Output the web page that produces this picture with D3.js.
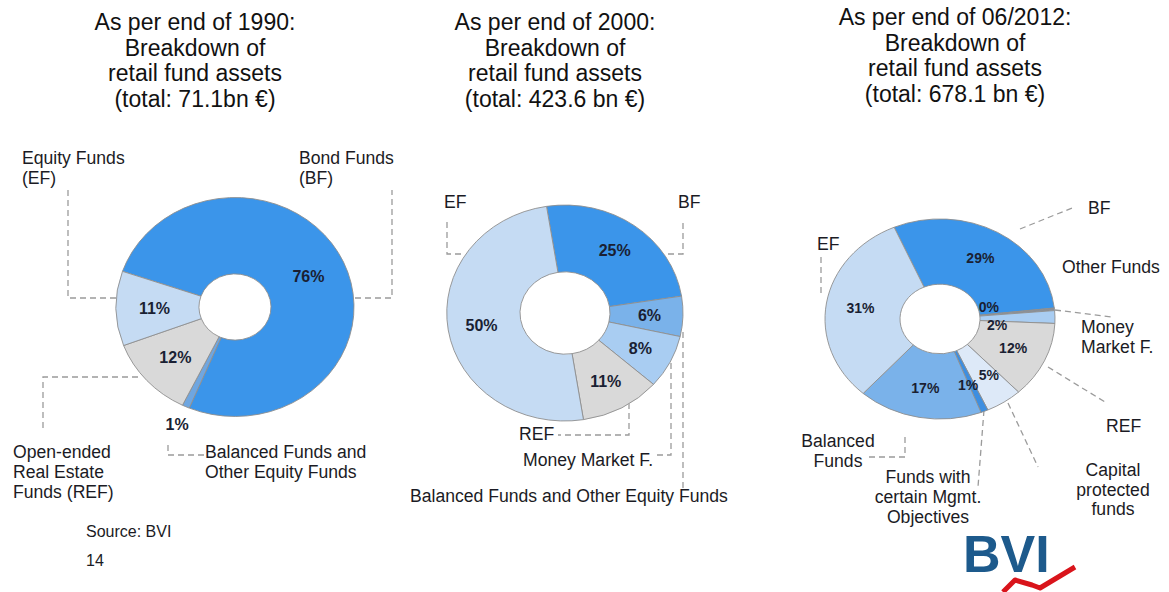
<!DOCTYPE html>
<html lang="en">
<head>
<meta charset="utf-8">
<style>
  body { margin: 0; background: #fff; }
  svg text { font-family: "Liberation Sans", Arial, sans-serif; fill: #1b1b24; }
  .title { font-size: 23px; text-anchor: middle; fill: #111; }
  .cat { font-size: 17.6px; }
  .pct { font-weight: bold; text-anchor: middle; fill: #1a1f33; }
  .leader { fill: none; stroke: #9b9b9b; stroke-width: 1.3px; stroke-dasharray: 6,4; }
  .slice { stroke: #8f8f8f; stroke-width: 0.9px; vector-effect: non-scaling-stroke; }
</style>
</head>
<body>
<svg width="1169" height="592"></svg>
<script src="https://d3js.org/d3.v7.min.js"></script>
<script>
// ---- data (shares in % of retail fund assets) ----
var titles1990 = ["As per end of 1990:", "Breakdown of", "retail fund assets", "(total: 71.1bn \u20ac)"];
var titles2000 = ["As per end of 2000:", "Breakdown of", "retail fund assets", "(total: 423.6 bn \u20ac)"];
var titles2012 = ["As per end of 06/2012:", "Breakdown of", "retail fund assets", "(total: 678.1 bn \u20ac)"];

var keys1990 = ["BF", "BAL", "REF", "EF"];
var shares1990 = [76, 1, 12, 11];

var keys2000 = ["BF", "BAL", "MMF", "REF", "EF"];
var shares2000 = [25, 6, 8, 11, 50];

var keys2012 = ["BF", "OTH", "MMF", "REF", "CAP", "MGMT", "BAL", "EF"];
var shares2012 = [29, 0.4, 2, 12, 5, 1, 17, 31];

var svg = d3.select("svg");

var colors = {
    BF: "#3b95ea", EF: "#c5dbf3", REF: "#d9d9d9", BAL: "#7ab2ea",
    MMF: "#a9cdf2", OTH: "#8a9099", CAP: "#dde9f8", MGMT: "#3d8ee0"
};

var charts = [
    {
        keys: keys1990, values: shares1990, titles: titles1990,
        cx: 235, cy: 307, r: 119, r0: 36, sy: 0.92, start: -71, titleX: 195, titleY: 30, pctSize: 16,
        colors: {BAL: "#6fa6e0"},
        pctR: {BAL: 140}, pctShift: {},
        labels: [
            {x: 22, y: 164, lines: ["Equity Funds", "(EF)"]},
            {x: 299, y: 164, lines: ["Bond Funds", "(BF)"]},
            {x: 13, y: 458, lines: ["Open-ended", "Real Estate", "Funds (REF)"]},
            {x: 205, y: 458, lines: ["Balanced Funds and", "Other Equity Funds"]}
        ],
        leaders: [
            [[68, 190], [68, 298], [117, 298]],
            [[355, 298], [392, 298], [392, 190]],
            [[138, 377], [43, 377], [43, 432]],
            [[168, 445], [168, 455], [204, 455]]
        ]
    },
    {
        keys: keys2000, values: shares2000, titles: titles2000,
        cx: 565, cy: 313, r: 118, r0: 45, sy: 0.915, start: -9, titleX: 555, titleY: 30, pctSize: 16,
        colors: {},
        pctR: {}, pctShift: {},
        labels: [
            {x: 444, y: 208, lines: ["EF"]},
            {x: 678, y: 208, lines: ["BF"]},
            {x: 519, y: 440, lines: ["REF"]},
            {x: 523, y: 466, lines: ["Money Market F."]},
            {x: 410, y: 502, lines: ["Balanced Funds and Other Equity Funds"]}
        ],
        leaders: [
            [[447, 222], [447, 254], [463, 254]],
            [[668, 254], [683, 254], [683, 220]],
            [[629, 403], [629, 435], [558, 435]],
            [[671, 363], [671, 455], [653, 455]],
            [[683, 332], [683, 488]]
        ]
    },
    {
        keys: keys2012, values: shares2012, titles: titles2012,
        cx: 940, cy: 319, r: 115, r0: 40, sy: 0.87, start: -23.5, titleX: 955, titleY: 25, pctSize: 14,
        colors: {},
        pctR: {OTH: 52, MMF: 54},
        pctShift: {OTH: [-3, -8], MMF: [3, 7], MGMT: [-3, 1], CAP: [4, -2]},
        labels: [
            {x: 1088, y: 214, lines: ["BF"]},
            {x: 1062, y: 273, lines: ["Other Funds"]},
            {x: 1081, y: 333, lines: ["Money", "Market F."]},
            {x: 1106, y: 432, lines: ["REF"]},
            {x: 1113, y: 476, lines: ["Capital", "protected", "funds"], anchor: "middle", lh: 19.5},
            {x: 928, y: 483, lines: ["Funds with", "certain Mgmt.", "Objectives"], anchor: "middle", lh: 20},
            {x: 838, y: 447, lines: ["Balanced", "Funds"], anchor: "middle"},
            {x: 817, y: 250, lines: ["EF"]}
        ],
        leaders: [
            [[1020, 229], [1072, 208]],
            [[1055, 310], [1112, 317]],
            [[1048, 367], [1105, 402]],
            [[1008, 403], [1038, 467]],
            [[984, 410], [978, 487]],
            [[905, 437], [905, 457], [865, 457]],
            [[821, 257], [821, 295]]
        ]
    }
];

var line = d3.line();

charts.forEach(function (c) {
    var a0 = c.start * Math.PI / 180;
    var pie = d3.pie().sort(null).startAngle(a0).endAngle(a0 + 2 * Math.PI);
    var arcs = pie(c.values);
    var arc = d3.arc().innerRadius(c.r0).outerRadius(c.r);

    // titles
    svg.append("g").selectAll("text")
        .data(c.titles)
        .enter().append("text")
        .attr("class", "title")
        .attr("x", c.titleX)
        .attr("y", function (d, i) { return c.titleY + i * 25.7; })
        .text(function (d) { return d; });

    // leader lines
    svg.append("g").selectAll("path")
        .data(c.leaders)
        .enter().append("path")
        .attr("class", "leader")
        .attr("d", function (d) { return line(d); });

    // donut (slightly squashed vertically like the original)
    var g = svg.append("g")
        .attr("transform", "translate(" + c.cx + "," + c.cy + ") scale(1," + c.sy + ")");
    g.selectAll("path")
        .data(arcs)
        .enter().append("path")
        .attr("class", "slice")
        .attr("d", arc)
        .attr("fill", function (d, i) {
            var k = c.keys[i];
            return c.colors[k] || colors[k];
        });

    // percent labels
    var mid = (c.r + c.r0) / 2 + 3;
    svg.append("g").selectAll("text")
        .data(arcs)
        .enter().append("text")
        .attr("class", "pct")
        .style("font-size", c.pctSize + "px")
        .attr("transform", function (d, i) {
            var k = c.keys[i];
            var rr = c.pctR[k] || mid;
            var sh = c.pctShift[k] || [0, 0];
            var p = d3.arc().innerRadius(rr).outerRadius(rr).centroid(d);
            return "translate(" + (c.cx + p[0] + sh[0]) + "," + (c.cy + p[1] * c.sy + sh[1]) + ")";
        })
        .attr("dy", "0.36em")
        .text(function (d) { return Math.round(d.data) + "%"; });

    // category labels
    c.labels.forEach(function (l) {
        var t = svg.append("text")
            .attr("class", "cat")
            .attr("text-anchor", l.anchor || "start");
        l.lines.forEach(function (s, i) {
            t.append("tspan")
                .attr("x", l.x)
                .attr("y", l.y + i * (l.lh || 20))
                .text(s);
        });
    });
});

// footer
svg.append("text").attr("x", 86).attr("y", 537).style("font-size", "16px").text("Source: BVI");
svg.append("text").attr("x", 86).attr("y", 566).style("font-size", "16px").text("14");

// BVI logo
svg.append("text")
    .attr("x", 963).attr("y", 572)
    .style("font-size", "52px").style("font-weight", "bold").style("fill", "#1d5a8c")
    .text("BVI");
svg.append("path")
    .attr("d", line([[1003, 592], [1015, 580], [1032, 585], [1040, 588], [1075, 567]]))
    .attr("fill", "none").attr("stroke", "#d9141b").attr("stroke-width", 5)
    .attr("stroke-linejoin", "round");
</script>
</body>
</html>
